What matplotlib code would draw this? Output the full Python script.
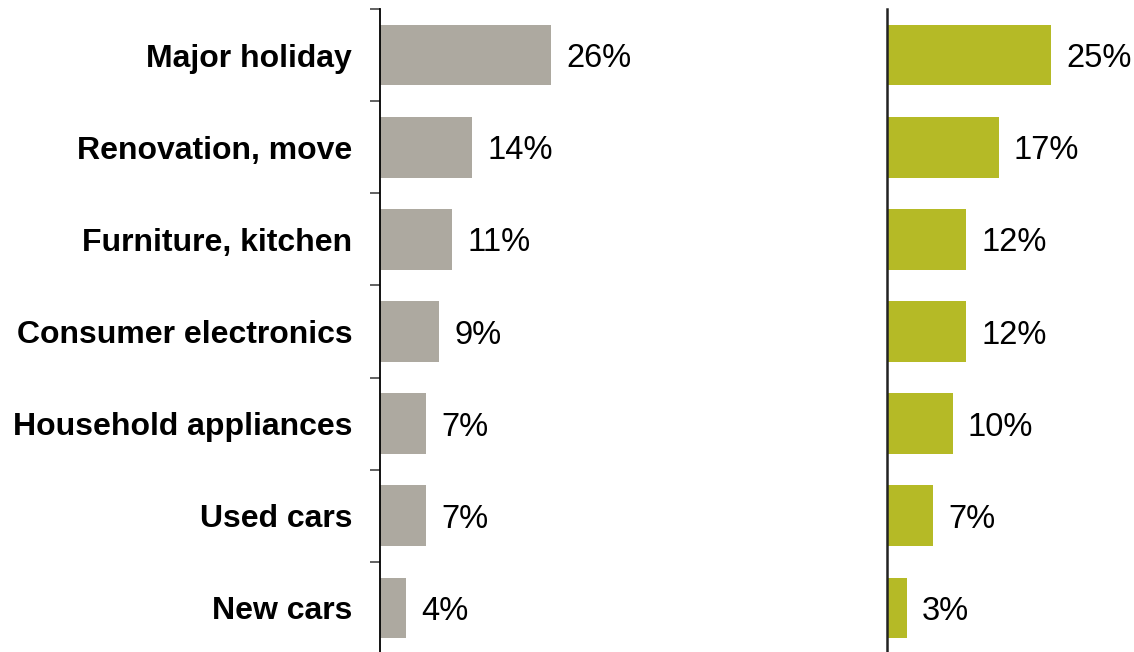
import matplotlib.pyplot as plt

plt.rcParams['font.family'] = ['Liberation Sans', 'DejaVu Sans']

categories = ['Major holiday', 'Renovation, move', 'Furniture, kitchen',
              'Consumer electronics', 'Household appliances', 'Used cars', 'New cars']
left_vals = [26, 14, 11, 9, 7, 7, 4]
right_vals = [25, 17, 12, 12, 10, 7, 3]

W, H = 1134, 652
fig = plt.figure(figsize=(W / 100, H / 100), dpi=100)

px_per_pct = 6.57
top = 1 - 9 / H
bottom = 1 - 654 / H

# left panel: grey bars with category names
axL = fig.add_axes([380 / W, bottom, 300 / W, top - bottom])
axR = fig.add_axes([887 / W, bottom, (W - 887) / W, top - bottom])

y = list(range(len(categories)))
for ax, vals, col in [(axL, left_vals, '#ADA9A0'), (axR, right_vals, '#B5BA26')]:
    ax.barh(y, vals, height=0.66, color=col)
    ax.set_ylim(len(categories) - 0.5, -0.5)
    ax.set_xlim(0, ax.get_position().width * W / px_per_pct)
    for s in ['top', 'right', 'bottom']:
        ax.spines[s].set_visible(False)
    ax.set_xticks([])
    for yi, v in zip(y, vals):
        ax.annotate(f'{v}%', (v, yi), xytext=(11, 0), textcoords='offset points',
                    va='center_baseline', ha='left', fontsize=23.5)

axL.spines['left'].set_linewidth(1.3)
axL.set_yticks([i - 0.5 for i in range(len(categories) + 1)], minor=False)
axL.set_yticklabels([])
axL.tick_params(axis='y', length=7, width=1.3, color='#555555')
axL.set_yticks(y, minor=True)
axL.set_yticklabels(categories, minor=True, fontsize=23, fontweight='bold')
axL.tick_params(axis='y', which='minor', length=0, pad=20)

axR.spines['left'].set_linewidth(1.8)
axR.spines['left'].set_color('#222222')
axR.set_yticks([])

fig.savefig('out.png', dpi=100)
